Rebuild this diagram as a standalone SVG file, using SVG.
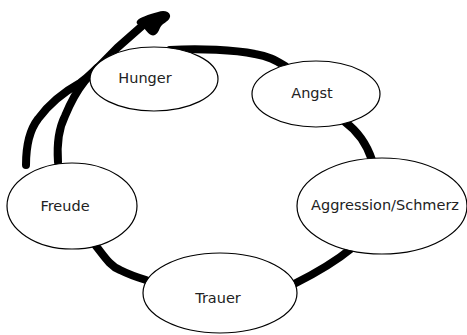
<svg xmlns="http://www.w3.org/2000/svg" width="467" height="335" viewBox="0 0 467 335">
<style>
.conn{fill:none;stroke:#000;stroke-width:8;stroke-linecap:round;stroke-linejoin:round}
.node ellipse{fill:#fff;stroke:#000;stroke-width:1.2}
.node text{font-family:"DejaVu Sans",sans-serif;font-size:14.5px;fill:#222;text-anchor:middle}
</style>
<rect width="467" height="335" fill="#fff"/>
<g id="connectors">
<path class="conn" d="M170,50 C200,48 235,50 255,54 C268,56 275,60 285,66"/>
<path class="conn" d="M345,122 C356,130 366,142 372,160"/>
<path class="conn" d="M352,248 C335,262 312,275 294,284"/>
<path class="conn" d="M96,246 C104,256 110,266 120,270 C128,274 136,277 146,280"/>
<path class="conn" d="M26,165 C26,148 28,132 38,119 C46,108 60,94 80,83 C95,72 105,60 117,48 C126,40 134,33 142,26"/>
<path class="conn" d="M58,162 C57,148 58,130 65,116 C70,104 76,92 84,82 C88,77 92,73 97,68"/>
<path d="M137,21 C140,17 148,15 158,12 C163,10 169,11 170,15 C171,19 166,22 162,25 C159,28 159,33 155,35 C151,37 147,32 144,28 C141,25 135,25 137,21 Z" fill="#000"/>
</g>
<g id="hunger" class="node"><ellipse cx="154" cy="79" rx="64" ry="32"/><text x="145" y="83">Hunger</text></g>
<g id="angst" class="node"><ellipse cx="316" cy="94" rx="64" ry="33"/><text x="312" y="98">Angst</text></g>
<g id="aggression" class="node"><ellipse cx="382" cy="206" rx="85" ry="48"/><text x="385" y="210">Aggression/Schmerz</text></g>
<g id="trauer" class="node"><ellipse cx="220" cy="293" rx="77" ry="40"/><text x="218" y="303">Trauer</text></g>
<g id="freude" class="node"><ellipse cx="72" cy="206" rx="65" ry="43"/><text x="65" y="211">Freude</text></g>
</svg>
